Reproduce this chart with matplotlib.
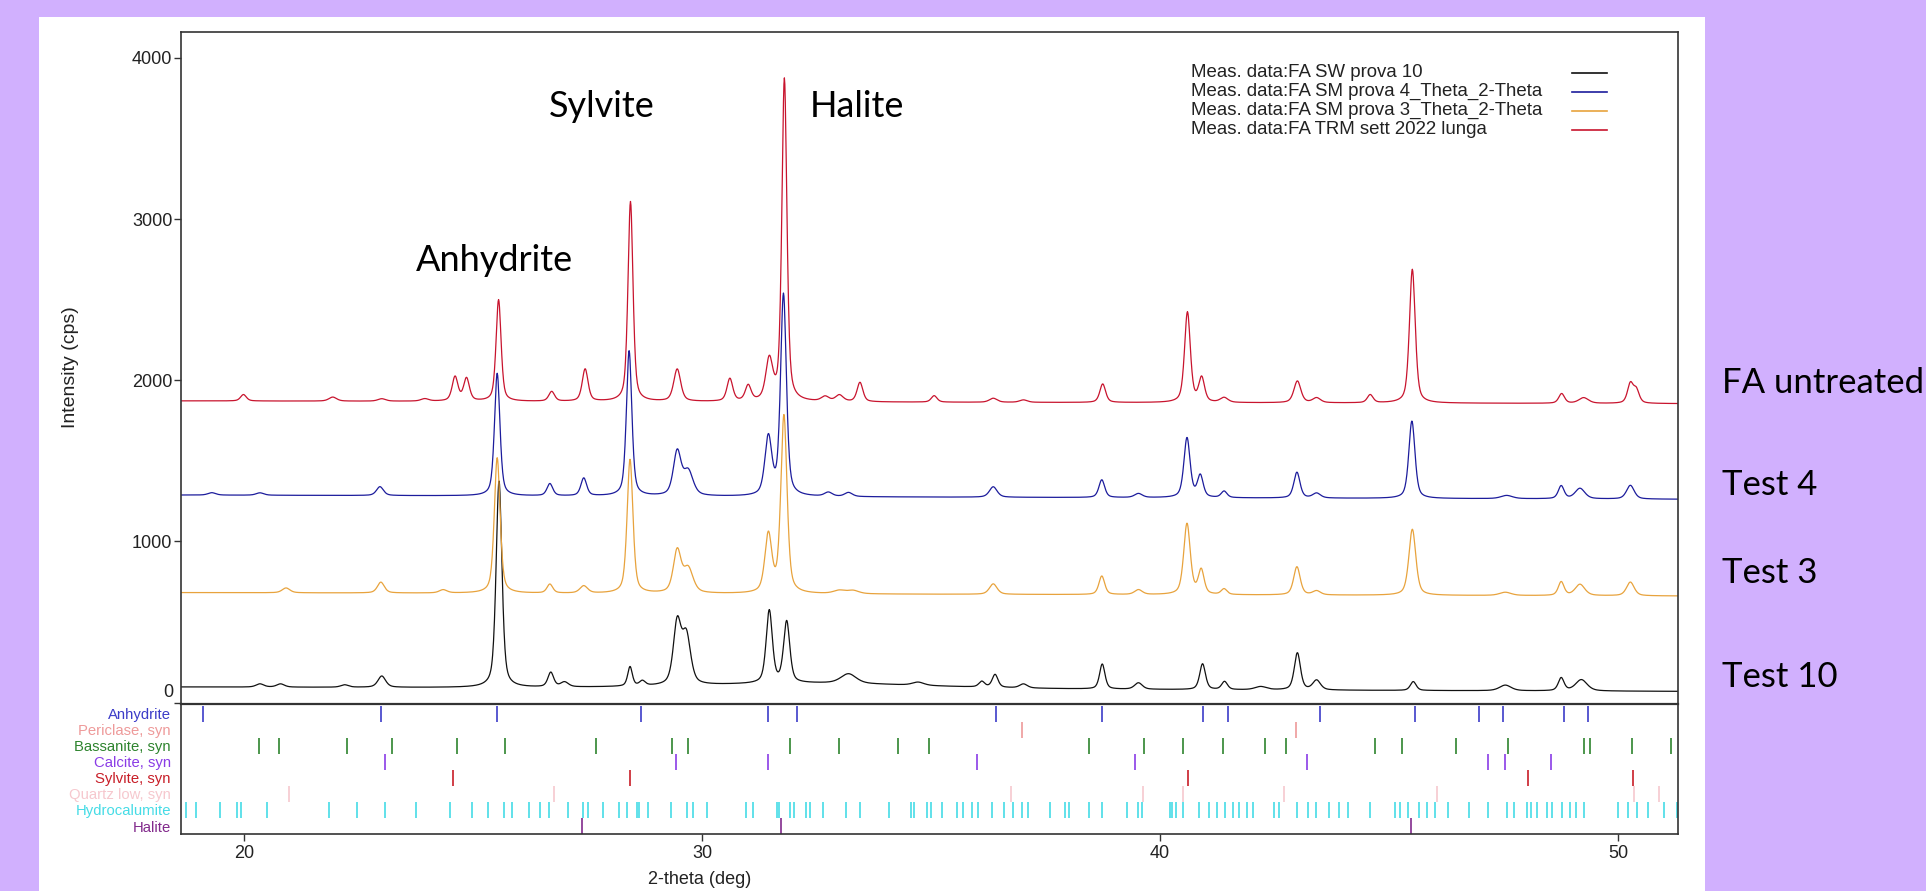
import numpy as np
import matplotlib
matplotlib.use("Agg")
import matplotlib.pyplot as plt
from matplotlib.patches import Rectangle

plt.rcParams['font.family'] = ['Liberation Sans', 'DejaVu Sans']

# ---------------- data ----------------
two_theta_range = (18.62, 51.31)
scan_step = 0.01

series_labels = ["Meas. data:FA SW prova 10",
                 "Meas. data:FA SM prova 4_Theta_2-Theta",
                 "Meas. data:FA SM prova 3_Theta_2-Theta",
                 "Meas. data:FA TRM sett 2022 lunga"]
series_colors = ["#111111", "#1C1C9C", "#E8A33D", "#C8142E"]

# black: FA SW prova 10
black_base = (97, 70)
black_pos = [20.35, 20.8, 22.2, 23.01, 25.57, 26.7, 27.0, 28.43, 28.7, 29.46, 29.66,
             31.47, 31.85, 32.5, 33.2, 34.72, 36.11, 36.4, 37.02, 38.74, 39.53, 40.93,
             41.41, 42.2, 43.0, 43.42, 45.53, 47.54, 48.76, 49.2]
black_hgt = [20, 20, 15, 70, 1280, 90, 30, 120, 30, 380, 300,
             450, 380, 35, 60, 20, 35, 80, 25, 155, 40, 160,
             50, 20, 230, 60, 55, 35, 80, 70]
black_fwhm = [0.2, 0.2, 0.2, 0.2, 0.15, 0.15, 0.2, 0.12, 0.15, 0.2, 0.22,
              0.16, 0.16, 6.0, 0.4, 0.3, 0.15, 0.15, 0.2, 0.14, 0.2, 0.15,
              0.15, 0.3, 0.16, 0.2, 0.15, 0.3, 0.15, 0.3]

# blue: FA SM prova 4
blue_base = (1288, 1262)
blue_pos = [19.3, 20.35, 22.97, 25.53, 26.68, 27.42, 28.41, 29.46, 29.70, 31.45, 31.78,
            32.76, 33.2, 36.36, 38.73, 39.53, 40.59, 40.88, 41.40, 42.99, 43.42, 45.5,
            47.57, 48.76, 49.17, 50.27]
blue_hgt = [15, 15, 55, 760, 75, 110, 900, 270, 150, 360, 1250,
            25, 25, 65, 110, 25, 370, 135, 40, 160, 30, 480,
            20, 80, 65, 85]
blue_fwhm = [0.2, 0.2, 0.18, 0.14, 0.15, 0.15, 0.14, 0.2, 0.25, 0.18, 0.15,
             0.2, 0.2, 0.2, 0.15, 0.2, 0.16, 0.15, 0.15, 0.16, 0.2, 0.16,
             0.3, 0.15, 0.25, 0.2]

# orange: FA SM prova 3
orange_base = (683, 662)
orange_pos = [20.92, 22.99, 24.35, 25.53, 26.68, 27.42, 28.43, 29.46, 29.70, 31.45, 31.79,
              33.0, 33.3, 36.36, 38.73, 39.53, 40.59, 40.90, 41.40, 42.99, 43.42, 45.51,
              47.54, 48.76, 49.17, 50.27]
orange_hgt = [30, 67, 20, 840, 55, 45, 830, 260, 150, 360, 1100,
              20, 20, 65, 115, 30, 440, 150, 35, 175, 25, 410,
              20, 85, 70, 85]
orange_fwhm = [0.2, 0.18, 0.2, 0.15, 0.15, 0.2, 0.15, 0.2, 0.25, 0.18, 0.16,
               0.3, 0.3, 0.2, 0.15, 0.2, 0.17, 0.15, 0.15, 0.17, 0.2, 0.18,
               0.3, 0.15, 0.25, 0.2]

# red: FA TRM sett 2022 lunga (untreated)
red_base = (1872, 1855)
red_pos = [19.99, 21.94, 23.01, 23.95, 24.61, 24.86, 25.56, 26.72, 27.45, 28.44, 29.46,
           30.61, 31.01, 31.47, 31.80, 32.69, 33.0, 33.45, 35.07, 36.36, 37.02, 38.75,
           40.60, 40.91, 41.40, 43.0, 43.42, 44.59, 45.51, 48.77, 49.25, 50.27, 50.40]
red_hgt = [40, 25, 15, 15, 150, 140, 630, 60, 200, 1240, 200,
           140, 95, 250, 2000, 30, 40, 120, 40, 25, 15, 115,
           560, 150, 30, 135, 30, 50, 830, 60, 35, 120, 80]
red_fwhm = [0.15, 0.2, 0.2, 0.2, 0.15, 0.15, 0.13, 0.15, 0.15, 0.13, 0.18,
            0.15, 0.15, 0.18, 0.13, 0.2, 0.2, 0.15, 0.15, 0.2, 0.2, 0.15,
            0.15, 0.15, 0.2, 0.18, 0.2, 0.15, 0.15, 0.15, 0.25, 0.15, 0.15]

# reference phase stick positions (2-theta)
phase_names = ["Anhydrite", "Periclase, syn", "Bassanite, syn", "Calcite, syn",
               "Sylvite, syn", "Quartz low, syn", "Hydrocalumite", "Halite"]
phase_colors = ["#3C3CC8", "#EE9A9A", "#2E842E", "#8A3CE6",
                "#C81E28", "#F6C8CE", "#46DCE6", "#822A8C"]
anhydrite = [19.11, 22.99, 25.52, 28.66, 31.45, 32.08, 36.42, 38.74, 40.95, 41.48,
             43.50, 45.57, 46.96, 47.50, 48.83, 49.35]
periclase = [36.98, 42.96]
bassanite = [20.32, 20.77, 22.25, 23.23, 24.65, 25.71, 27.68, 29.35, 29.69, 31.92,
             32.99, 34.27, 34.96, 38.45, 39.66, 40.51, 41.37, 42.29, 42.75, 44.69,
             45.29, 46.47, 47.59, 49.25, 49.39, 50.31, 51.15]
calcite = [23.08, 29.43, 31.45, 36.00, 39.45, 43.20, 47.16, 47.53, 48.53]
sylvite = [24.57, 28.42, 40.61, 48.03, 50.32]
quartz = [20.98, 26.77, 36.74, 39.64, 40.51, 42.70, 46.04, 50.36, 50.9]
hydrocalumite = [18.74, 18.95, 19.48, 19.86, 19.94, 20.50, 21.86, 22.46, 23.08, 23.75,
                 24.51, 24.97, 25.34, 25.68, 25.85, 26.22, 26.47, 26.67, 27.08, 27.41,
                 27.52, 27.83, 28.19, 28.37, 28.58, 28.63, 28.82, 29.32, 29.67, 29.80,
                 30.12, 30.96, 31.11, 31.63, 31.69, 31.92, 32.01, 32.27, 32.35, 32.65,
                 33.15, 33.45, 34.09, 34.56, 34.62, 34.91, 35.00, 35.24, 35.56, 35.69,
                 35.90, 36.02, 36.33, 36.60, 36.80, 36.98, 37.11, 37.59, 37.92, 38.01,
                 38.44, 38.74, 39.29, 39.51, 39.60, 40.21, 40.27, 40.35, 40.51, 40.85,
                 41.06, 41.24, 41.43, 41.60, 41.73, 41.89, 42.04, 42.50, 42.60, 43.00,
                 43.23, 43.40, 43.69, 43.90, 44.11, 44.58, 45.13, 45.23, 45.42, 45.65,
                 45.84, 46.01, 46.28, 46.74, 47.16, 47.57, 47.72, 48.01, 48.09, 48.24,
                 48.45, 48.56, 48.77, 48.95, 49.08, 49.25, 50.00, 50.21, 50.41, 50.65,
                 51.00, 51.28]
halite = [27.39, 31.72, 45.47]

y_ticks = [0, 1000, 2000, 3000, 4000]
x_ticks = [20, 30, 40, 50]

annotations = [("Anhydrite", 25.46, 2745), ("Sylvite", 27.82, 3695), ("Halite", 33.38, 3700)]
side_labels = ["FA untreated", "Test 4", "Test 3", "Test 10"]


# ---------------- build profiles from the peak lists ----------------
def profile(x, base, pos, hgt, fwhm):
    y = base[0] + (base[1] - base[0]) * (x - x[0]) / (x[-1] - x[0])
    for p, h, w in zip(pos, hgt, fwhm):
        d = (x - p) / (w / 2.0)
        y = y + h * (0.5 / (1 + d ** 2) + 0.5 * np.exp(-np.log(2) * d ** 2))
    return y


tt = np.arange(two_theta_range[0], two_theta_range[1] + scan_step, scan_step)
curves = [profile(tt, black_base, black_pos, black_hgt, black_fwhm),
          profile(tt, blue_base, blue_pos, blue_hgt, blue_fwhm),
          profile(tt, orange_base, orange_pos, orange_hgt, orange_fwhm),
          profile(tt, red_base, red_pos, red_hgt, red_fwhm)]
phase_lists = [anhydrite, periclase, bassanite, calcite, sylvite, quartz, hydrocalumite, halite]

# ---------------- figure ----------------
W, H = 1926, 891
fig = plt.figure(figsize=(W / 100, H / 100), dpi=100)
fig.patch.set_facecolor("#D1B0FE")
fig.patches.append(Rectangle((39 / W, 0), (1705 - 39) / W, (H - 17) / H,
                             transform=fig.transFigure, facecolor="white",
                             edgecolor="none", zorder=-10))

left, right = 180.7, 1678
top_main, sep, bot_phase = 32, 704, 834
ax = fig.add_axes([left / W, (H - sep) / H, (right - left) / W, (sep - top_main) / H])
axp = fig.add_axes([left / W, (H - bot_phase) / H, (right - left) / W, (bot_phase - sep) / H])

spine_col = "#333333"
for a in (ax, axp):
    a.set_facecolor("none")
    for s in a.spines.values():
        s.set_color(spine_col)
        s.set_linewidth(1.2)
    a.set_xlim(*two_theta_range)

for c, col in zip(curves, series_colors):
    ax.plot(tt, c, color=col, lw=0.9)

ax.set_ylim(-8, 4160)
ax.set_xticks([])
ax.set_yticks(y_ticks)
ax.set_yticklabels([""] + [str(v) for v in y_ticks[1:]])
ax.tick_params(axis="y", direction="out", length=5, width=1, pad=1,
               labelsize=13, colors=spine_col, labelcolor="#222222")
ax.annotate(str(y_ticks[0]), xy=(0, y_ticks[0]), xycoords=("axes fraction", "data"),
            xytext=(-7, 10), textcoords="offset pixels", ha="right", va="center",
            fontsize=13, color="#222222")

# legend (text first, line sample to the right)
lx_text, lx0, lx1 = (1191 - left) / (right - left), (1572 - left) / (right - left), (1607 - left) / (right - left)
for i, (lab, col) in enumerate(zip(series_labels, series_colors)):
    yy = (sep - (72.7 + 19.1 * i)) / (sep - top_main)
    ax.text(lx_text, yy, lab, transform=ax.transAxes, ha="left", va="center",
            fontsize=13.4, color="#222222")
    ax.plot([lx0, lx1], [yy, yy], transform=ax.transAxes, color=col, lw=1.2)

for txt, xx, yy in annotations:
    ax.text(xx, yy, txt, ha="center", va="center", fontsize=26,
            family=["Lato", "DejaVu Sans"], color="black")

# phase panel
for i, (pl, col) in enumerate(zip(phase_lists, phase_colors)):
    axp.vlines(pl, i - 0.48, i + 0.48, colors=col, lw=1.2)
axp.set_ylim(7.5, -0.625)
axp.set_yticks(range(len(phase_names)))
axp.set_yticklabels(phase_names, fontsize=10.7)
for lbl, col in zip(axp.get_yticklabels(), phase_colors):
    lbl.set_color(col)
axp.tick_params(axis="y", length=0, pad=7)
axp.set_xticks(x_ticks)
axp.tick_params(axis="x", direction="out", length=5, width=1, pad=3,
                labelsize=13, colors=spine_col, labelcolor="#222222")
axp.spines["top"].set_linewidth(1.6)

fig.text(700 / W, (H - 880) / H, "2-theta (deg)", ha="center", va="center",
         fontsize=13, color="#222222")
fig.text(70 / W, (H - 367) / H, "Intensity (cps)", rotation=90, ha="center",
         va="center", fontsize=14, color="#222222")

for txt, yy in zip(side_labels, [383, 485, 573, 677]):
    fig.text(1722 / W, (H - yy) / H, txt, ha="left", va="center", fontsize=25,
             family=["Lato", "DejaVu Sans"], color="black")

fig.savefig("out.png", dpi=100, facecolor=fig.get_facecolor())
